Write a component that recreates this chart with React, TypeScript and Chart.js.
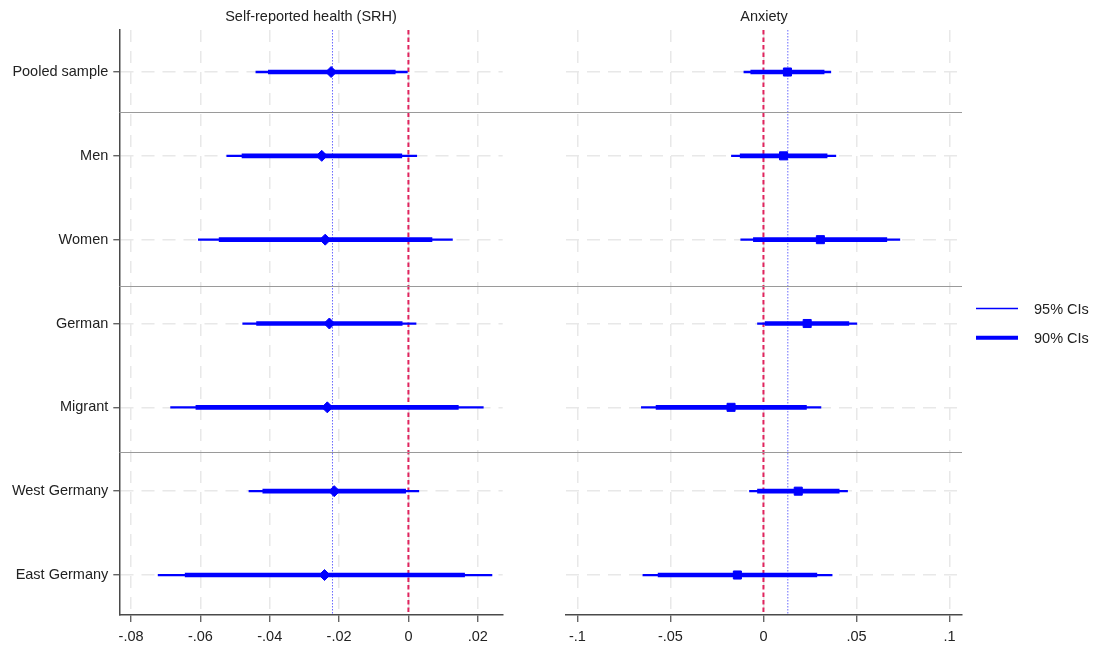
import React, { useEffect, useRef } from 'react';
import { Chart, registerables } from 'chart.js';

Chart.register(...registerables);
Chart.defaults.font.family = 'Arial, "Liberation Sans", Helvetica, sans-serif';

// ---------- data ----------
const categories = ['Pooled sample', 'Men', 'Women', 'German', 'Migrant', 'West Germany', 'East Germany'];
const rowIndex = [0, 1, 2, 3, 4, 5, 6];

const srhEstimate = [-0.0223, -0.025, -0.024, -0.0228, -0.0234, -0.0214, -0.0242];
const srhCI95Low = [-0.044, -0.0524, -0.0606, -0.0478, -0.0686, -0.046, -0.0722];
const srhCI95High = [-0.0003, 0.0024, 0.0127, 0.0022, 0.0216, 0.003, 0.0241];
const srhCI90Low = [-0.0404, -0.048, -0.0546, -0.0438, -0.0613, -0.042, -0.0644];
const srhCI90High = [-0.0038, -0.0019, 0.0068, -0.0018, 0.0144, -0.0008, 0.0162];

const anxEstimate = [0.0129, 0.0108, 0.0306, 0.0235, -0.0174, 0.0187, -0.014];
const anxCI95Low = [-0.0105, -0.0172, -0.0122, -0.0032, -0.0656, -0.0075, -0.0648];
const anxCI95High = [0.0362, 0.0389, 0.0733, 0.0502, 0.0309, 0.0452, 0.0369];
const anxCI90Low = [-0.0068, -0.0125, -0.0054, 0.0009, -0.0577, -0.0032, -0.0566];
const anxCI90High = [0.0326, 0.0342, 0.0663, 0.0459, 0.0231, 0.0407, 0.0287];

const srhMeanLine = -0.0219;
const anxMeanLine = 0.0131;
const zeroLine = 0;

const srhTicks = [-0.08, -0.06, -0.04, -0.02, 0, 0.02];
const srhTickLabels = ['-.08', '-.06', '-.04', '-.02', '0', '.02'];
const anxTicks = [-0.1, -0.05, 0, 0.05, 0.1];
const anxTickLabels = ['-.1', '-.05', '0', '.05', '.1'];

const groupSeparators = [0.477, 2.553, 4.533];
const panelTitles = ['Self-reported health (SRH)', 'Anxiety'];
const legendLabels = ['95% CIs', '90% CIs'];

// ---------- styling ----------
const BLUE = '#0000ff';
const TEXT = '#222222';
const AXIS = '#4a4a4a';
const GRID = '#e8e8e8';
const FONT_SIZE = 14.5;

type PanelCfg = {
  side: 'left' | 'right';
  title: string;
  est: number[];
  ci95: number[][];
  ci90: number[][];
  marker: string;
  markerRadius: number;
  min: number;
  max: number;
  ticks: number[];
  tickLabels: string[];
  meanLine: number;
  yWidth: number;
  padRight: number;
  canvasWidth: number;
  showLegend: boolean;
};

function buildPanel(canvas: HTMLCanvasElement, cfg: PanelCfg) {
  const isLeft = cfg.side === 'left';

  const refLines = {
    id: 'refLines',
    beforeDatasetsDraw(chart: any) {
      const { ctx, chartArea } = chart;
      const xs = chart.scales.x;
      ctx.save();
      const x0 = xs.getPixelForValue(zeroLine);
      ctx.strokeStyle = '#e0245e';
      ctx.lineWidth = 2;
      ctx.setLineDash([4.5, 3]);
      ctx.beginPath();
      ctx.moveTo(x0, chartArea.top);
      ctx.lineTo(x0, chartArea.bottom);
      ctx.stroke();
      const xm = xs.getPixelForValue(cfg.meanLine);
      ctx.strokeStyle = '#6a6aff';
      ctx.lineWidth = 1;
      ctx.setLineDash([1.5, 1.5]);
      ctx.beginPath();
      ctx.moveTo(xm, chartArea.top);
      ctx.lineTo(xm, chartArea.bottom);
      ctx.stroke();
      ctx.restore();
    },
  };

  const separators = {
    id: 'separators',
    beforeDatasetsDraw(chart: any) {
      const { ctx, chartArea } = chart;
      const ys = chart.scales.y;
      ctx.save();
      ctx.strokeStyle = '#9a9a9a';
      ctx.lineWidth = 1;
      ctx.setLineDash([]);
      for (const v of groupSeparators) {
        const y = Math.round(ys.getPixelForValue(v)) + 0.5;
        ctx.beginPath();
        if (isLeft) {
          ctx.moveTo(chartArea.left, y);
          ctx.lineTo(cfg.canvasWidth, y);
        } else {
          ctx.moveTo(0, y);
          ctx.lineTo(chartArea.right, y);
        }
        ctx.stroke();
      }
      ctx.restore();
    },
  };

  const titleAndLegend = {
    id: 'titleAndLegend',
    afterDraw(chart: any) {
      const { ctx, chartArea } = chart;
      ctx.save();
      ctx.fillStyle = TEXT;
      ctx.font = `${FONT_SIZE}px ${Chart.defaults.font.family}`;
      ctx.textAlign = 'center';
      ctx.textBaseline = 'middle';
      ctx.fillText(cfg.title, (chartArea.left + chartArea.right) / 2, 17);
      if (cfg.showLegend) {
        const lx1 = 436;
        const lx2 = 478;
        const rows = [
          { y: 308.5, w: 1.5, label: legendLabels[0] },
          { y: 337.7, w: 4, label: legendLabels[1] },
        ];
        for (const r of rows) {
          ctx.strokeStyle = BLUE;
          ctx.lineWidth = r.w;
          ctx.setLineDash([]);
          ctx.beginPath();
          ctx.moveTo(lx1, r.y);
          ctx.lineTo(lx2, r.y);
          ctx.stroke();
          ctx.textAlign = 'left';
          ctx.fillStyle = TEXT;
          ctx.fillText(r.label, 494, r.y + 1);
        }
      }
      ctx.restore();
    },
  };

  return new Chart(canvas, {
    type: 'bar',
    data: {
      labels: rowIndex,
      datasets: [
        {
          type: 'line',
          label: 'Estimate',
          data: cfg.est,
          indexAxis: 'y',
          showLine: false,
          pointStyle: cfg.marker,
          pointRadius: cfg.markerRadius,
          pointBackgroundColor: BLUE,
          pointBorderColor: BLUE,
          pointBorderWidth: 1,
          order: 0,
        } as any,
        {
          label: legendLabels[1],
          data: cfg.ci90 as any,
          backgroundColor: BLUE,
          borderWidth: 0,
          barThickness: 4,
          grouped: false,
          order: 1,
        },
        {
          label: legendLabels[0],
          data: cfg.ci95 as any,
          backgroundColor: BLUE,
          borderWidth: 0,
          barThickness: 1.6,
          grouped: false,
          order: 2,
        },
      ],
    },
    options: {
      indexAxis: 'y',
      responsive: false,
      maintainAspectRatio: false,
      animation: false,
      layout: { padding: { top: 30, right: cfg.padRight, left: 0, bottom: 0 } },
      plugins: {
        legend: { display: false },
        tooltip: { enabled: false },
        title: { display: false },
      },
      scales: {
        x: {
          type: 'linear',
          position: 'bottom',
          min: cfg.min,
          max: cfg.max,
          afterBuildTicks: (s: any) => {
            s.ticks = cfg.ticks.map((v) => ({ value: v }));
          },
          afterFit: (s: any) => {
            s.height = 31;
          },
          ticks: {
            autoSkip: false,
            maxRotation: 0,
            color: TEXT,
            font: { size: FONT_SIZE },
            padding: 6,
            callback: (_v: any, i: number) => cfg.tickLabels[i],
          },
          grid: {
            color: GRID,
            lineWidth: 1.5,
            drawTicks: true,
            tickLength: 7,
            tickColor: AXIS,
            tickWidth: 1.2,
            tickBorderDash: [],
          },
          border: { display: true, color: AXIS, width: 1.5, dash: [12, 9] },
        },
        y: {
          type: 'linear',
          position: 'left',
          reverse: true,
          offset: false,
          min: -0.501,
          max: 6.477,
          afterBuildTicks: (s: any) => {
            s.ticks = rowIndex.map((v) => ({ value: v }));
          },
          afterFit: (s: any) => {
            s.width = cfg.yWidth;
          },
          ticks: {
            display: isLeft,
            autoSkip: false,
            color: TEXT,
            font: { size: FONT_SIZE },
            padding: 5,
            callback: (v: any) => categories[Math.round(Number(v))],
          },
          grid: {
            offset: false,
            color: GRID,
            lineWidth: 1.5,
            drawTicks: isLeft,
            tickLength: 6,
            tickColor: AXIS,
            tickWidth: 1.2,
            tickBorderDash: [],
          },
          border: { display: isLeft, color: AXIS, width: 1.5, dash: [13, 8] },
        },
      },
    } as any,
    plugins: [refLines, separators, titleAndLegend],
  });
}

export default function App() {
  const leftRef = useRef<HTMLCanvasElement>(null);
  const rightRef = useRef<HTMLCanvasElement>(null);

  useEffect(() => {
    const left = buildPanel(leftRef.current!, {
      side: 'left',
      title: panelTitles[0],
      est: srhEstimate,
      ci95: srhCI95Low.map((lo, i) => [lo, srhCI95High[i]]),
      ci90: srhCI90Low.map((lo, i) => [lo, srhCI90High[i]]),
      marker: 'rectRot',
      markerRadius: 5.5,
      min: -0.0834,
      max: 0.0272,
      ticks: srhTicks,
      tickLabels: srhTickLabels,
      meanLine: srhMeanLine,
      yWidth: 119.3,
      padRight: 540 - 502.7,
      canvasWidth: 540,
      showLegend: false,
    });
    const right = buildPanel(rightRef.current!, {
      side: 'right',
      title: panelTitles[1],
      est: anxEstimate,
      ci95: anxCI95Low.map((lo, i) => [lo, anxCI95High[i]]),
      ci90: anxCI90Low.map((lo, i) => [lo, anxCI90High[i]]),
      marker: 'rect',
      markerRadius: 5.7,
      min: -0.1061,
      max: 0.1067,
      ticks: anxTicks,
      tickLabels: anxTickLabels,
      meanLine: anxMeanLine,
      yWidth: 26,
      padRight: 553 - 422,
      canvasWidth: 553,
      showLegend: true,
    });
    return () => {
      left.destroy();
      right.destroy();
    };
  }, []);

  return (
    <div style={{ position: 'absolute', left: 0, top: 0, width: 1093, height: 646, background: '#ffffff' }}>
      <canvas ref={leftRef} width={540} height={646} style={{ position: 'absolute', left: 0, top: 0 }} />
      <canvas ref={rightRef} width={553} height={646} style={{ position: 'absolute', left: 540, top: 0 }} />
    </div>
  );
}
